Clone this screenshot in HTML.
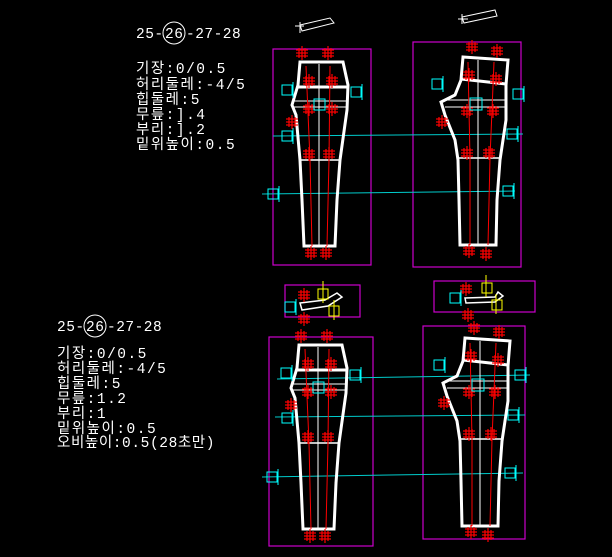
<!DOCTYPE html>
<html><head><meta charset="utf-8"><style>
html,body{margin:0;padding:0;background:#000;width:612px;height:557px;overflow:hidden}
svg{display:block}
text{font-family:"Liberation Mono","Noto Sans CJK KR",monospace;fill:#fff;font-size:14px}
.t{letter-spacing:1.5px;font-size:14.5px}
.h{font-size:14.5px;letter-spacing:0.5px}
</style></head><body>
<svg width="612" height="557" viewBox="0 0 612 557" xmlns="http://www.w3.org/2000/svg">
<defs>
<g id="rm" stroke="#f00" stroke-width="1.2" fill="none">
<line x1="-6" y1="-4" x2="6" y2="-4"/><line x1="-6" y1="-1" x2="6" y2="-1"/><line x1="-6" y1="2" x2="6" y2="2"/><line x1="0" y1="-8" x2="0" y2="6"/><line x1="-3" y1="-6" x2="-3" y2="4"/><line x1="3" y1="-6" x2="3" y2="4"/>
</g>
<g id="cm" stroke="#0ff" stroke-width="1" fill="none">
<rect x="-5" y="-5" width="10" height="10"/><line x1="6" y1="-8" x2="6" y2="8"/>
</g>
<g id="pl">
<path d="M300,62 L343,62 L348,85 L347,110 L340,160 L337,200 L335,246 L304,246 L302,200 L300,160 L296,115 L292,105 L298,85 Z" fill="none" stroke="#fff" stroke-width="3"/>
<line x1="298" y1="87" x2="347" y2="87" stroke="#fff" stroke-width="3"/>
<line x1="294" y1="101" x2="347" y2="101" stroke="#fff" stroke-width="1"/>
<line x1="294" y1="107" x2="347" y2="107" stroke="#fff" stroke-width="1"/>
<line x1="300" y1="160" x2="340" y2="160" stroke="#fff" stroke-width="1.5"/>
<line x1="319" y1="64" x2="319" y2="246" stroke="#fff" stroke-width="1"/>
<path d="M306,66 L310,160 L312,246 M330,66 L329,160 L327,246" stroke="#f00" stroke-width="1" fill="none"/>
<use href="#rm" x="302" y="54"/><use href="#rm" x="328" y="54"/>
<use href="#rm" x="309" y="82"/><use href="#rm" x="332" y="82"/>
<use href="#rm" x="309" y="110"/><use href="#rm" x="332" y="110"/>
<use href="#rm" x="309" y="155"/><use href="#rm" x="329" y="155"/>
<use href="#rm" x="311" y="254"/><use href="#rm" x="326" y="254"/>
<use href="#rm" x="292" y="123"/>
<rect x="314" y="99" width="11" height="11" stroke="#0ff" fill="none"/>
<use href="#cm" x="287" y="90"/><use href="#cm" x="356" y="92"/>
</g>
<g id="pr">
<path d="M463,57 L508,60 L506,85 L506,120 L500,160 L497,200 L496,245 L460,245 L459,200 L458,160 L455,140 L445,115 L441,102 L455,95 L461,80 Z" fill="none" stroke="#fff" stroke-width="3"/>
<path d="M461,79 L506,84" stroke="#fff" stroke-width="3"/>
<line x1="443" y1="100" x2="506" y2="100" stroke="#fff" stroke-width="1"/>
<line x1="445" y1="107" x2="506" y2="107" stroke="#fff" stroke-width="1"/>
<line x1="458" y1="158" x2="500" y2="158" stroke="#fff" stroke-width="1.5"/>
<line x1="478" y1="60" x2="478" y2="245" stroke="#fff" stroke-width="1"/>
<path d="M468,62 L470,158 L470,245 M494,62 L490,158 L488,245" stroke="#f00" stroke-width="1" fill="none"/>
<use href="#rm" x="472" y="48"/><use href="#rm" x="497" y="52"/>
<use href="#rm" x="469" y="76"/><use href="#rm" x="496" y="80"/>
<use href="#rm" x="467" y="112"/><use href="#rm" x="493" y="112"/>
<use href="#rm" x="467" y="154"/><use href="#rm" x="489" y="154"/>
<use href="#rm" x="469" y="252"/><use href="#rm" x="486" y="255"/>
<use href="#rm" x="442" y="123"/>
<rect x="470" y="98" width="12" height="12" stroke="#0ff" fill="none"/>
<use href="#cm" x="437" y="84"/><use href="#cm" x="518" y="94"/>
</g>
</defs>

<text x="136" y="38" class="h">25-</text>
<circle cx="174" cy="33" r="11" stroke="#fff" fill="none"/>
<text x="165" y="38" class="h">26</text>
<text x="186" y="38" class="h">-27-28</text>
<text x="136" y="73" class="t">기장:0/0.5</text>
<text x="136" y="89" class="t">허리둘레:-4/5</text>
<text x="136" y="104" class="t">힙둘레:5</text>
<text x="136" y="119" class="t">무릎:].4</text>
<text x="136" y="134" class="t">부리:].2</text>
<text x="136" y="149" class="t">밑위높이:0.5</text>

<text x="57" y="331" class="h">25-</text>
<circle cx="95" cy="326" r="11" stroke="#fff" fill="none"/>
<text x="86" y="331" class="h">26</text>
<text x="107" y="331" class="h">-27-28</text>
<text x="57" y="358" class="t">기장:0/0.5</text>
<text x="57" y="373" class="t">허리둘레:-4/5</text>
<text x="57" y="388" class="t">힙둘레:5</text>
<text x="57" y="403" class="t">무릎:1.2</text>
<text x="57" y="418" class="t">부리:1</text>
<text x="57" y="433" class="t">밑위높이:0.5</text>
<text x="57" y="447" class="t" style="letter-spacing:0.6px">오비높이:0.5(28초만)</text>

<!-- top -->
<rect x="273" y="49" width="98" height="216" fill="none" stroke="#c0c" stroke-width="1.2"/>
<rect x="413" y="42" width="108" height="225" fill="none" stroke="#c0c" stroke-width="1.2"/>
<line x1="273" y1="136" x2="523" y2="134" stroke="#0cc" stroke-width="1"/>
<line x1="262" y1="194" x2="515" y2="191" stroke="#0cc" stroke-width="1"/>
<use href="#cm" x="287" y="136"/><use href="#cm" x="512" y="134"/>
<use href="#cm" x="273" y="194"/><use href="#cm" x="508" y="191"/>
<use href="#pl"/><use href="#pr"/>
<path d="M300,25 L330,18 L334,23 L302,31 Z M295,26 L304,26 M300,22 L300,33" stroke="#fff" fill="none"/>
<path d="M462,17 L495,10 L497,16 L464,23 Z M458,19 L468,19 M462,14 L462,24" stroke="#fff" fill="none"/>

<!-- bottom -->
<rect x="269" y="337" width="104" height="209" fill="none" stroke="#c0c" stroke-width="1.2"/>
<rect x="285" y="285" width="75" height="32" fill="none" stroke="#c0c" stroke-width="1.2"/>
<rect x="423" y="326" width="102" height="213" fill="none" stroke="#c0c" stroke-width="1.2"/>
<rect x="434" y="281" width="101" height="31" fill="none" stroke="#c0c" stroke-width="1.2"/>
<line x1="277" y1="379" x2="530" y2="375" stroke="#0cc" stroke-width="1"/>
<line x1="275" y1="417" x2="525" y2="415" stroke="#0cc" stroke-width="1"/>
<line x1="262" y1="477" x2="523" y2="473" stroke="#0cc" stroke-width="1"/>
<use href="#cm" x="287" y="418"/><use href="#cm" x="513" y="415"/>
<use href="#cm" x="272" y="477"/><use href="#cm" x="510" y="473"/>
<g transform="translate(-1,283)"><use href="#pl"/></g>
<g transform="translate(2,281)"><use href="#pr"/></g>
<path d="M300,303 L325,300 L337,293 L342,297 L328,306 L302,310 Z" stroke="#fff" fill="none" stroke-width="1.5"/>
<path d="M465,298 L495,297 L498,292 L503,296 L495,302 L466,303 Z" stroke="#fff" fill="none" stroke-width="1.5"/>
<use href="#rm" x="304" y="296"/><use href="#rm" x="304" y="320"/>
<use href="#rm" x="466" y="290"/><use href="#rm" x="468" y="316"/>
<g stroke="#ff0" stroke-width="1" fill="none">
<rect x="318" y="289" width="10" height="10"/><line x1="323" y1="281" x2="323" y2="303"/>
<rect x="329" y="306" width="10" height="10"/><line x1="334" y1="300" x2="334" y2="320"/>
<rect x="482" y="283" width="10" height="10"/><line x1="486" y1="275" x2="486" y2="297"/>
<rect x="492" y="300" width="10" height="10"/><line x1="496" y1="294" x2="496" y2="314"/>
</g>
<use href="#cm" x="290" y="307"/><use href="#cm" x="455" y="298"/>
</svg>
</body></html>
